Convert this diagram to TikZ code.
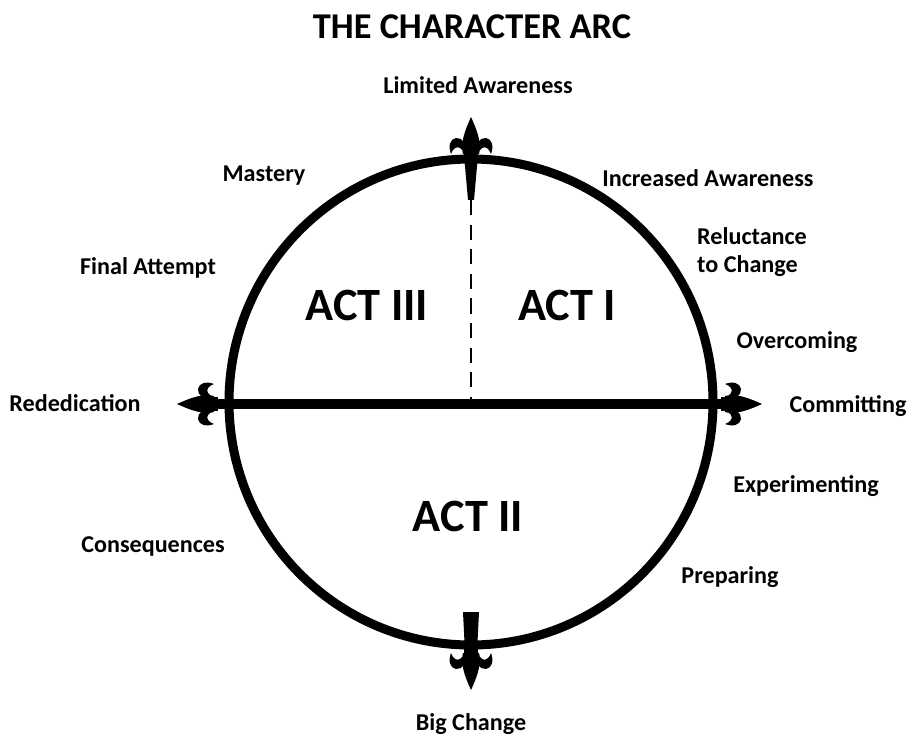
\documentclass[tikz,border=0pt]{standalone}
\usepackage{fontspec}
\setmainfont{Carlito}
\begin{document}
\begin{tikzpicture}[x=0.03cm,y=-0.03cm]
\tikzset{
  lbl/.style={font=\bfseries\fontsize{20.6pt}{24pt}\selectfont, inner sep=0pt},
  actlbl/.style={font=\bfseries\fontsize{39.5pt}{44pt}\selectfont, inner sep=0pt},
  ttl/.style={font=\bfseries\fontsize{31pt}{36pt}\selectfont, inner sep=0pt},
  fleur/.pic={
    \fill (-3,-7) rectangle (3,7);
    \fill (0,-5) .. controls (6,-10) and (14,-11) .. (38,0) .. controls (14,11) and (6,10) .. (0,5) -- cycle;
    \fill (2,4) .. controls (10,4) and (18,9) .. (17,15) .. controls (16,21) and (9,23) .. (1,20)
          .. controls (7,18) and (9,14) .. (7,11) .. controls (6,9) and (4,8) .. (1,8) -- cycle;
    \fill (2,-4) .. controls (10,-4) and (18,-9) .. (17,-15) .. controls (16,-21) and (9,-23) .. (1,-20)
          .. controls (7,-18) and (9,-14) .. (7,-11) .. controls (6,-9) and (4,-8) .. (1,-8) -- cycle;
  }
}
\useasboundingbox (0,0) rectangle (908,738);
\fill[white] (0,0) rectangle (908,738);

% circle
\coordinate (c) at (471,402);
\draw[line width=7.7pt] (c) circle [x radius=242, y radius=243];

% coordinates for arrows
\coordinate (lb) at (215,404);
\coordinate (rb) at (724,404);
\coordinate (tb) at (471,155);
\coordinate (bb) at (471,652);
\coordinate (ds) at (471,200);
\coordinate (de) at (471,404);

% horizontal bar
\draw[line width=8.5pt] (lb) -- (rb);
% dashed vertical
\draw[line width=1.3pt, dash pattern=on 13pt off 8pt] (ds) -- (de);

% stems
\fill (464,155) -- (478,155) -- (474,200) -- (468,200) -- cycle;
\fill (465,652) -- (477,652) -- (479,612) -- (463,612) -- cycle;

% fleurs
\pic[rotate=0] at (rb) {fleur};
\pic[rotate=180] at (lb) {fleur};
\pic[rotate=90] at (tb) {fleur};
\pic[rotate=-90] at (bb) {fleur};

% texts
\node[ttl] (title) at (472,27) {THE CHARACTER ARC};
\node[lbl] (lim) at (478,85) {Limited Awareness};
\node[lbl] (mas) at (264,176) {Mastery};
\node[lbl] (inc) at (708,178) {Increased Awareness};
\node[lbl, align=left, anchor=west] (rel) at (697,252) {Reluctance\\to Change};
\node[lbl] (fin) at (148,268) {Final Attempt};
\node[lbl] (ove) at (797,342) {Overcoming};
\node[lbl] (com) at (848,406) {Committing};
\node[lbl] (red) at (75,403) {Rededication};
\node[lbl] (exp) at (806,486) {Experimenting};
\node[lbl] (con) at (153,546) {Consequences};
\node[lbl] (pre) at (730,577) {Preparing};
\node[lbl] (big) at (471,724) {Big Change};
\node[actlbl] (a3) at (367,305) {ACT III};
\node[actlbl] (a1) at (567,305) {ACT I};
\node[actlbl] (a2) at (468,516) {ACT II};
\end{tikzpicture}
\end{document}
